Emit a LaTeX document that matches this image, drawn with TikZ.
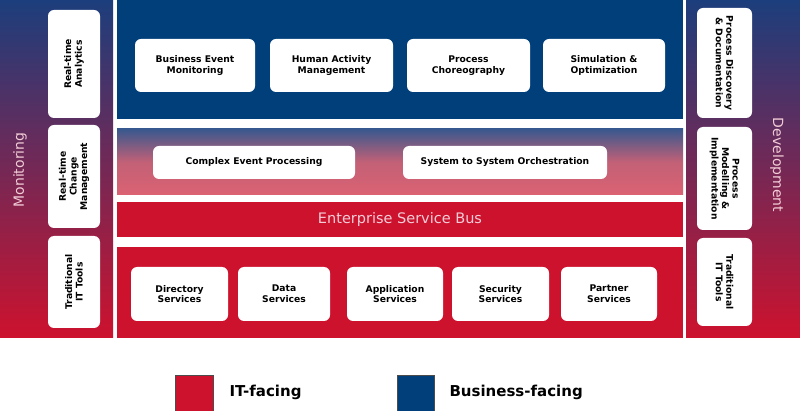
\documentclass[tikz,border=0pt]{standalone}
\usepackage{fontspec}
\setmainfont{DejaVu Sans}
\definecolor{itred}{RGB}{205,18,46}
\definecolor{bizblue}{RGB}{0,63,122}
\definecolor{sidetop}{RGB}{28,62,124}
\definecolor{midtop}{RGB}{56,88,142}
\definecolor{midbot}{RGB}{219,98,114}
\definecolor{paleink}{RGB}{242,205,215}

\begin{document}
\begin{tikzpicture}[x=1pt,y=-1pt,
  card/.style={fill=white,rounded corners=6pt,align=center,inner sep=1pt,
    font=\bfseries\fontsize{9.2}{10.6}\selectfont},
  sidelabel/.style={text=paleink,font=\fontsize{14}{16}\selectfont},
  swatch/.style={draw=black!70,line width=0.6pt}]
  \fill[white] (0,0) rectangle (800,411);
  \useasboundingbox (0,0) rectangle (800,411);
  % side panels
  \shade[top color=sidetop,bottom color=itred] (0,0) rectangle (113,338);
  \shade[top color=sidetop,bottom color=itred] (686,0) rectangle (800,338);
  \node[sidelabel,rotate=90] (mon) at (20,170) {Monitoring};
  \node[sidelabel,rotate=-90] (dev) at (777,165) {Development};
  % centre bands
  \fill[bizblue] (117,0) rectangle (683,119);
  \shade[top color=midtop,bottom color=midbot,middle color=midbot!85!midtop]
    (117,129) rectangle (683,195);
  \fill[itred] (117,247) rectangle (683,338);
  \node[fill=itred,minimum width=566pt,minimum height=35pt,text=paleink,
    font=\fontsize{14.5}{16}\selectfont] (esb) at (400,220) {Enterprise Service Bus};
  % left column
  \node[card,rotate=90,minimum width=108pt,minimum height=52pt] (rta) at (74,64) {Real-time\\Analytics};
  \node[card,rotate=90,minimum width=103pt,minimum height=52pt] (rcm) at (74,176.5) {Real-time\\Change\\Management};
  \node[card,rotate=90,minimum width=92pt,minimum height=52pt] (itl) at (74,282) {Traditional\\IT Tools};
  % right column
  \node[card,rotate=-90,minimum width=110pt,minimum height=55pt] (pdd) at (724.5,63) {Process Discovery\\\& Documentation};
  \node[card,rotate=-90,minimum width=103pt,minimum height=55pt] (pmi) at (724.5,178.5) {Process\\Modelling \&\\Implementation};
  \node[card,rotate=-90,minimum width=88pt,minimum height=55pt] (itr) at (724.5,282) {Traditional\\IT Tools};
  % business layer
  \node[card,minimum width=120pt,minimum height=53pt] (bem) at (195,65.5) {Business Event\\Monitoring};
  \node[card,minimum width=123pt,minimum height=53pt] (ham) at (331.5,65.5) {Human Activity\\Management};
  \node[card,minimum width=123pt,minimum height=53pt] (pch) at (468.5,65.5) {Process\\Choreography};
  \node[card,minimum width=122pt,minimum height=53pt] (sim) at (604,65.5) {Simulation \&\\Optimization};
  % orchestration layer
  \node[card,minimum width=202pt,minimum height=33pt] (cep) at (254,162.5) {Complex Event Processing};
  \node[card,minimum width=204pt,minimum height=33pt] (sso) at (505,162.5) {System to System Orchestration};
  % services
  \node[card,minimum width=97pt,minimum height=54pt] (dir) at (179.5,294) {Directory\\Services};
  \node[card,minimum width=92pt,minimum height=54pt] (dat) at (284,294) {Data\\Services};
  \node[card,minimum width=96pt,minimum height=54pt] (app) at (395,294) {Application\\Services};
  \node[card,minimum width=97pt,minimum height=54pt] (sec) at (500.5,294) {Security\\Services};
  \node[card,minimum width=96pt,minimum height=54pt] (par) at (609,294) {Partner\\Services};
  % legend
  \filldraw[swatch,fill=itred] (175,375) rectangle (213,413);
  \node[anchor=west,font=\bfseries\fontsize{15}{17}\selectfont] (itf) at (226,392) {IT-facing};
  \filldraw[swatch,fill=bizblue] (397,375) rectangle (434,413);
  \node[anchor=west,font=\bfseries\fontsize{15}{17}\selectfont] (bsf) at (446,392) {Business-facing};
\end{tikzpicture}
\end{document}
